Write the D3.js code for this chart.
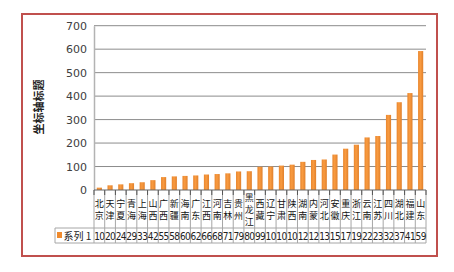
<!DOCTYPE html>
<html>
<head>
<meta charset="utf-8">
<script src="https://cdn.jsdelivr.net/npm/d3@7"></script>
<style>
  body { margin: 0; background: #fff; }
  svg { display: block; font-family: "Noto Sans CJK SC", "DejaVu Sans", sans-serif; }
</style>
</head>
<body>
<svg id="chart" width="454" height="272"></svg>
<script>
// data
let provinces = ["北京","天津","宁夏","青海","上海","山西","广西","新疆","海南","广东","江西","河南","吉林","贵州","黑龙江","西藏","辽宁","甘肃","陕西","湖南","内蒙","河北","安徽","重庆","浙江","云南","江苏","四川","湖北","福建","山东"];
let values = [10,20,24,29,33,42,55,58,60,62,66,68,71,79,80,99,100,104,108,120,128,130,151,176,193,224,230,320,374,413,592];
let yTicks = [0,100,200,300,400,500,600,700];
let seriesName = "系列 1";
let axisTitle = "坐标轴标题";

let svg = d3.select("#chart");

// outer frame
svg.append("rect")
  .attr("x", 22).attr("y", 14)
  .attr("width", 415).attr("height", 242)
  .attr("fill", "#fff")
  .attr("stroke", "#c0504d").attr("stroke-width", 2);

let plotLeft = 94, plotRight = 426, plotTop = 25.7, base = 190;
let rowTop = 228, rowBottom = 243, legendLeft = 55;

let x = d3.scaleBand().domain(provinces).range([plotLeft, plotRight]).paddingInner(0.52).paddingOuter(0.26);
let band = (plotRight - plotLeft) / provinces.length;
let y = d3.scaleLinear().domain([0, 700]).range([base, plotTop]);

let defs = svg.append("defs");
let grad = defs.append("linearGradient").attr("id", "barGrad")
  .attr("x1", 0).attr("y1", 0).attr("x2", 1).attr("y2", 0);
grad.append("stop").attr("offset", "0%").attr("stop-color", "#e8862e");
grad.append("stop").attr("offset", "45%").attr("stop-color", "#f99b40");
grad.append("stop").attr("offset", "100%").attr("stop-color", "#e0802c");

// gridlines
svg.append("g").selectAll("line")
  .data(yTicks.slice(1)).enter().append("line")
  .attr("x1", plotLeft).attr("x2", plotRight)
  .attr("y1", d => y(d)).attr("y2", d => y(d))
  .attr("stroke", "#8c8c8c").attr("stroke-width", 1);

// y axis
let yAxis = d3.axisLeft(y).tickValues(yTicks).tickSize(0).tickPadding(7);
let yg = svg.append("g").attr("transform", "translate(" + plotLeft + ",0)").call(yAxis);
yg.select(".domain").attr("stroke", "#b3b3b3").attr("stroke-width", 1.5);
yg.selectAll("text").attr("font-size", 11).attr("fill", "#404040")
  .attr("font-family", "'DejaVu Sans', sans-serif");

svg.append("text")
  .attr("transform", "translate(43,107) rotate(-90)")
  .attr("text-anchor", "middle")
  .attr("font-size", 11).attr("font-weight", "bold").attr("fill", "#222")
  .text(axisTitle);

// bars
svg.append("g").selectAll("rect")
  .data(values).enter().append("rect")
  .attr("x", (d, i) => x(provinces[i]))
  .attr("y", d => y(d))
  .attr("width", x.bandwidth())
  .attr("height", d => base - y(d))
  .attr("fill", "url(#barGrad)");

// data table lines
let tbl = svg.append("g");
tbl.selectAll(".vline")
  .data(d3.range(provinces.length + 1)).enter().append("line")
  .attr("x1", i => plotLeft + i * band).attr("x2", i => plotLeft + i * band)
  .attr("y1", base).attr("y2", rowBottom)
  .attr("stroke", "#a6a6a6").attr("stroke-width", 1);
tbl.selectAll(".tick")
  .data(d3.range(provinces.length + 1)).enter().append("line")
  .attr("x1", i => plotLeft + i * band).attr("x2", i => plotLeft + i * band)
  .attr("y1", base).attr("y2", base + 5)
  .attr("stroke", "#555").attr("stroke-width", 1);
tbl.append("line").attr("x1", legendLeft).attr("x2", plotRight).attr("y1", rowTop).attr("y2", rowTop)
  .attr("stroke", "#a6a6a6");
tbl.append("line").attr("x1", legendLeft).attr("x2", plotRight).attr("y1", rowBottom).attr("y2", rowBottom)
  .attr("stroke", "#a6a6a6");
tbl.append("line").attr("x1", legendLeft).attr("x2", legendLeft).attr("y1", rowTop).attr("y2", rowBottom)
  .attr("stroke", "#a6a6a6");
svg.append("line").attr("x1", plotLeft).attr("x2", plotRight).attr("y1", base).attr("y2", base)
  .attr("stroke", "#666").attr("stroke-width", 1);

// category labels, one char per line, block centred in the row
let lineGap = 11.8;
let cats = svg.append("g").selectAll("text")
  .data(provinces).enter().append("text")
  .attr("text-anchor", "middle")
  .attr("font-size", 9).attr("fill", "#111");
cats.each(function(d, i){
  let cx = plotLeft + (i + 0.5) * band;
  let chars = d.split("");
  let first = 209.5 - (chars.length - 1) * lineGap / 2 + 3.3;
  d3.select(this).selectAll("tspan")
    .data(chars).enter().append("tspan")
    .attr("x", cx)
    .attr("y", (c, k) => first + k * lineGap)
    .text(c => c);
});

// value cells: the narrow cells only show the first two digits
svg.append("g").selectAll("text")
  .data(values).enter().append("text")
  .attr("x", (d, i) => plotLeft + (i + 0.5) * band)
  .attr("y", 240)
  .attr("text-anchor", "middle")
  .attr("font-size", 10).attr("letter-spacing", -0.6).attr("fill", "#222")
  .attr("font-family", "'DejaVu Sans Condensed', 'DejaVu Sans', sans-serif")
  .text(d => String(d).slice(0, 2));

// legend key
svg.append("rect").attr("x", 57).attr("y", 232).attr("width", 5).attr("height", 6).attr("fill", "#f08a2c");
svg.append("text").attr("x", 63.5).attr("y", 240).attr("font-size", 10).attr("fill", "#222").text(seriesName);
</script>
</body>
</html>
